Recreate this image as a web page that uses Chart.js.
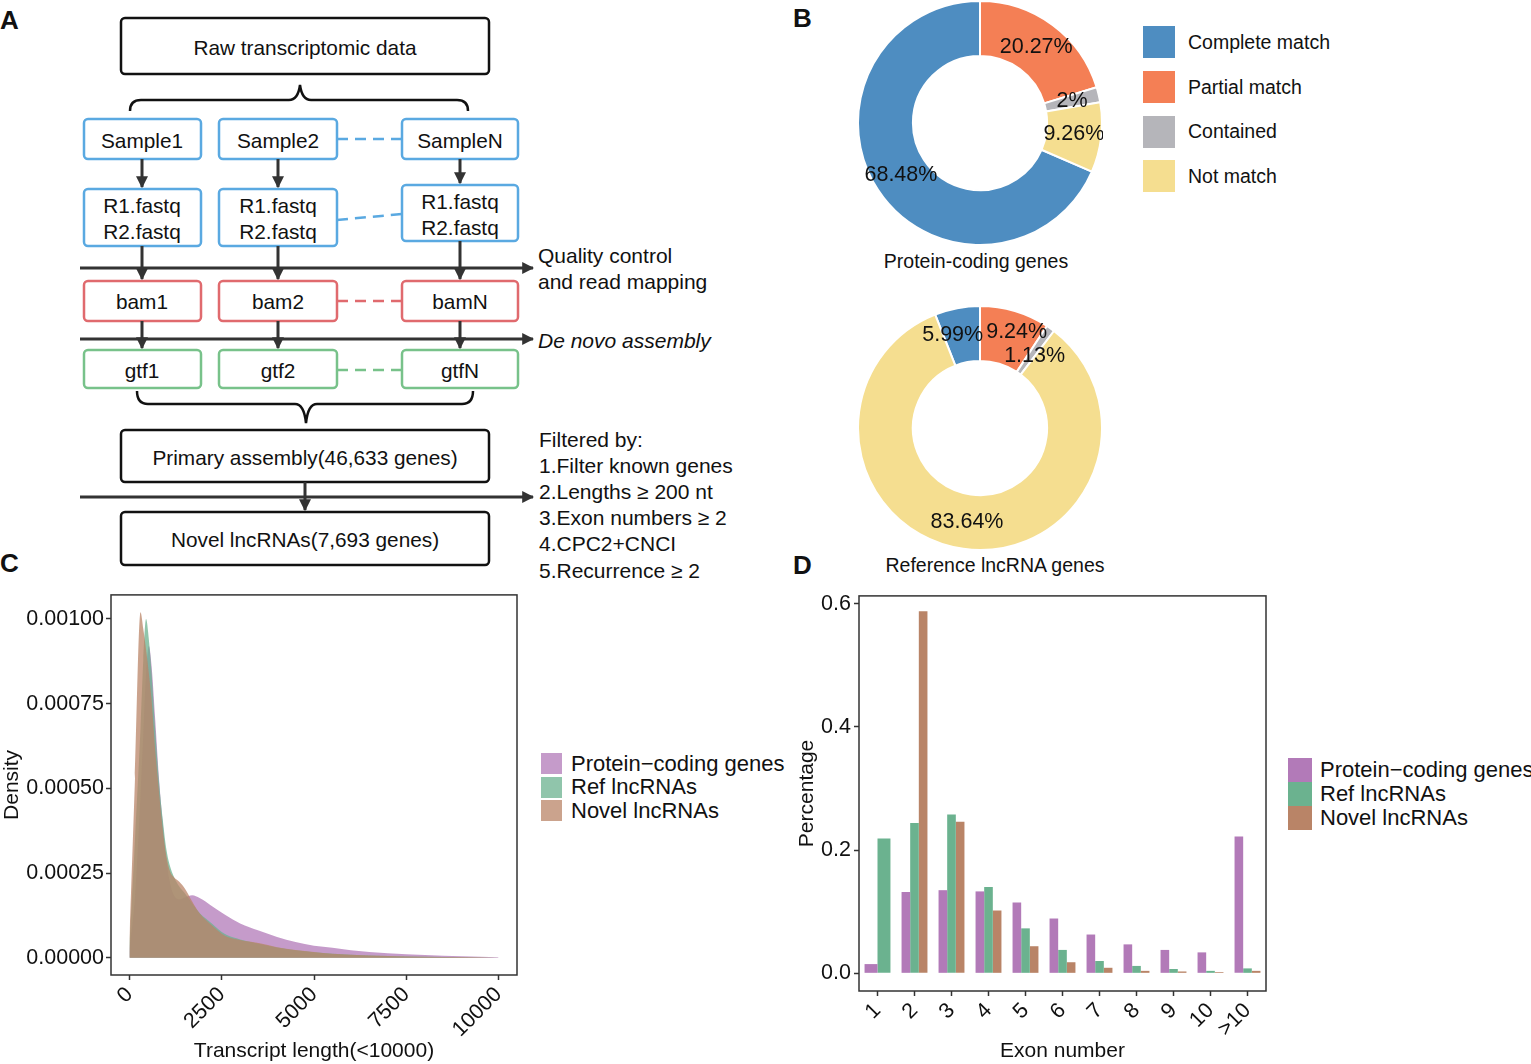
<!DOCTYPE html>
<html>
<head>
<meta charset="utf-8">
<script src="https://cdn.jsdelivr.net/npm/chart.js@4.4.1/dist/chart.umd.min.js"></script>
<style>
  body { margin: 0; background: #fff; font-family: "Liberation Sans", Arial, sans-serif; color: #111; }
  #page { position: relative; width: 1531px; height: 1064px; overflow: hidden; background: #fff; }
  .box { position: absolute; }
  .letter { position: absolute; font-weight: bold; font-size: 26px; line-height: 26px; }
  .caption { position: absolute; font-size: 19.5px; white-space: nowrap; transform: translateX(-50%); }
  .legend { position: absolute; }
  .legend .row { display: flex; align-items: center; white-space: nowrap; }
</style>
</head>
<body>
<div id="page">

  <!-- panel A : workflow -->
  <svg class="box" style="left:0;top:0" width="760" height="590" font-family="Liberation Sans, Arial, sans-serif" font-size="20.8" fill="#111">
    <defs>
      <marker id="head" markerWidth="4" markerHeight="4" refX="3.6" refY="2" orient="auto" markerUnits="strokeWidth">
        <path d="M0,0 L4,2 L0,4 z" fill="#333"/>
      </marker>
    </defs>
    <g fill="none" stroke-width="2.5">
      <rect x="121" y="18" width="368" height="56" rx="4" stroke="#111"/>
      <rect x="84" y="119" width="117" height="40" rx="4" stroke="#5aa9e1"/>
      <rect x="219" y="119" width="118" height="40" rx="4" stroke="#5aa9e1"/>
      <rect x="402" y="119" width="116" height="40" rx="4" stroke="#5aa9e1"/>
      <rect x="84" y="189" width="117" height="57" rx="4" stroke="#5aa9e1"/>
      <rect x="219" y="189" width="118" height="57" rx="4" stroke="#5aa9e1"/>
      <rect x="402" y="185" width="116" height="56" rx="4" stroke="#5aa9e1"/>
      <rect x="84" y="281" width="117" height="40" rx="4" stroke="#e06a6e"/>
      <rect x="219" y="281" width="118" height="40" rx="4" stroke="#e06a6e"/>
      <rect x="402" y="281" width="116" height="40" rx="4" stroke="#e06a6e"/>
      <rect x="84" y="350" width="117" height="38" rx="4" stroke="#78c28a"/>
      <rect x="219" y="350" width="118" height="38" rx="4" stroke="#78c28a"/>
      <rect x="402" y="350" width="116" height="38" rx="4" stroke="#78c28a"/>
      <rect x="121" y="430" width="368" height="52" rx="4" stroke="#111"/>
      <rect x="121" y="512" width="368" height="53" rx="4" stroke="#111"/>

      <line x1="337" y1="139" x2="402" y2="139" stroke="#5aa9e1" stroke-dasharray="11,7"/>
      <line x1="337" y1="220" x2="402" y2="214" stroke="#5aa9e1" stroke-dasharray="11,7"/>
      <line x1="337" y1="301" x2="402" y2="301" stroke="#e06a6e" stroke-dasharray="11,7"/>
      <line x1="337" y1="370" x2="402" y2="370" stroke="#78c28a" stroke-dasharray="11,7"/>

      <path d="M130,111 Q130,100 141,100 L289,100 Q298,100 300,85 Q302,100 311,100 L457,100 Q468,100 468,111" stroke="#111"/>
      <path d="M137,391 Q137,404 148,404 L295,404 Q304,404 306,423 Q308,404 317,404 L462,404 Q473,404 473,391" stroke="#111"/>
    </g>
    <g stroke="#333" stroke-width="3" marker-end="url(#head)">
      <line x1="142" y1="159" x2="142" y2="187"/>
      <line x1="278" y1="159" x2="278" y2="187"/>
      <line x1="460" y1="159" x2="460" y2="183"/>
      <line x1="142" y1="246" x2="142" y2="279"/>
      <line x1="278" y1="246" x2="278" y2="279"/>
      <line x1="460" y1="241" x2="460" y2="279"/>
      <line x1="142" y1="321" x2="142" y2="348"/>
      <line x1="278" y1="321" x2="278" y2="348"/>
      <line x1="460" y1="321" x2="460" y2="348"/>
      <line x1="305" y1="482" x2="305" y2="510"/>
      <line x1="80" y1="268" x2="533" y2="268"/>
      <line x1="80" y1="339" x2="533" y2="339"/>
      <line x1="80" y1="497" x2="533" y2="497"/>
    </g>
    <g text-anchor="middle" dominant-baseline="central">
      <text x="305" y="47">Raw transcriptomic data</text>
      <text x="142" y="140">Sample1</text>
      <text x="278" y="140">Sample2</text>
      <text x="460" y="140">SampleN</text>
      <text x="142" y="205">R1.fastq</text>
      <text x="142" y="231">R2.fastq</text>
      <text x="278" y="205">R1.fastq</text>
      <text x="278" y="231">R2.fastq</text>
      <text x="460" y="201">R1.fastq</text>
      <text x="460" y="227">R2.fastq</text>
      <text x="142" y="301">bam1</text>
      <text x="278" y="301">bam2</text>
      <text x="460" y="301">bamN</text>
      <text x="142" y="370">gtf1</text>
      <text x="278" y="370">gtf2</text>
      <text x="460" y="370">gtfN</text>
      <text x="305" y="457">Primary assembly(46,633 genes)</text>
      <text x="305" y="539">Novel lncRNAs(7,693 genes)</text>
    </g>
    <g font-size="21">
      <text x="538" y="263">Quality control</text>
      <text x="538" y="289">and read mapping</text>
      <text x="538" y="348" font-style="italic">De novo assembly</text>
      <text x="539" y="447">Filtered by:</text>
      <text x="539" y="473">1.Filter known genes</text>
      <text x="539" y="499">2.Lengths ≥ 200 nt</text>
      <text x="539" y="525">3.Exon numbers ≥ 2</text>
      <text x="539" y="551">4.CPC2+CNCI</text>
      <text x="539" y="578">5.Recurrence ≥ 2</text>
    </g>
  </svg>

  <div class="letter" style="left:0;top:7px">A</div>
  <div class="letter" style="left:793px;top:5px">B</div>
  <div class="letter" style="left:0;top:550px">C</div>
  <div class="letter" style="left:793px;top:552px">D</div>

  <!-- panel B -->
  <div class="box" style="left:857px;top:0;width:246px;height:246px"><canvas id="donutProtein"></canvas></div>
  <div class="box" style="left:857px;top:305px;width:246px;height:246px"><canvas id="donutLnc"></canvas></div>
  <div class="caption" style="left:976px;top:250px">Protein-coding genes</div>
  <div class="caption" style="left:995px;top:554px">Reference lncRNA genes</div>
  <div class="legend" id="legendB" style="left:1143px;top:20px;font-size:19.5px"></div>

  <!-- panel C -->
  <div class="box" style="left:0;top:580px;width:530px;height:484px"><canvas id="chartDensity"></canvas></div>
  <div class="legend" id="legendC" style="left:541px;top:752px;font-size:22px"></div>

  <!-- panel D -->
  <div class="box" style="left:780px;top:580px;width:500px;height:484px"><canvas id="chartExon"></canvas></div>
  <div class="legend" id="legendD" style="left:1288px;top:758px;font-size:22px"></div>
</div>

<script>
// ---- data ----
const matchTypes = ['Complete match', 'Partial match', 'Contained', 'Not match'];
const matchColors = ['#4e8dc1', '#f47f55', '#b5b5ba', '#f5de90'];
const proteinMatch = [68.48, 20.27, 2, 9.26];
const lncMatch = [5.99, 9.24, 1.13, 83.64];

const geneGroups = ['Protein\u2212coding genes', 'Ref lncRNAs', 'Novel lncRNAs'];
const groupColors = ['#b27ab8', '#6bb28f', '#b98467'];

const lengthGrid = [0, 150, 300, 375, 450, 525, 600, 700, 800, 900, 1000, 1100, 1200, 1350, 1500,
    1700, 1900, 2200, 2600, 3000, 3500, 4000, 4500, 5000, 5500, 6000, 7000, 8000, 9000, 10000];
const proteinDensity = [0.00002, 0.00018, 0.00048, 0.00066, 0.00084, 0.00092, 0.00086, 0.00070, 0.00053, 0.00040,
    0.00029, 0.00022, 0.000185, 0.000172, 0.000178, 0.000184, 0.000176, 0.000155, 0.000126, 0.000101,
    0.000080, 0.000061, 0.000046, 0.000035, 0.000029, 0.000022, 0.000013, 0.000008, 0.000004, 0.000001];
const refDensity = [0.00004, 0.00035, 0.00068, 0.00088, 0.00100, 0.00094, 0.00084, 0.00067, 0.00052, 0.00041,
    0.00032, 0.00027, 0.00024, 0.00021, 0.00019, 0.00016, 0.000132, 0.000104, 0.000069, 0.000054,
    0.000041, 0.000030, 0.000022, 0.000016, 0.000012, 0.000009, 0.000005, 0.000003, 0.000001, 0];
const novelDensity = [0.00006, 0.00053, 0.00102, 0.00097, 0.00091, 0.00084, 0.00076, 0.00061, 0.00049, 0.00038,
    0.00030, 0.000255, 0.000238, 0.000224, 0.000204, 0.000166, 0.000131, 0.000099, 0.000064, 0.000052,
    0.000043, 0.000031, 0.000023, 0.000017, 0.000012, 0.000009, 0.000005, 0.000003, 0.000002, 0];
const lengthTicks = [0, 2500, 5000, 7500, 10000];
const densityTicks = [0, 0.00025, 0.0005, 0.00075, 0.001];

const exonLabels = ['1', '2', '3', '4', '5', '6', '7', '8', '9', '10', '>10'];
const proteinExon = [0.015, 0.132, 0.135, 0.133, 0.115, 0.089, 0.063, 0.047, 0.038, 0.034, 0.222];
const refExon = [0.219, 0.244, 0.258, 0.140, 0.073, 0.038, 0.020, 0.012, 0.007, 0.004, 0.008];
const novelExon = [null, 0.588, 0.246, 0.102, 0.044, 0.018, 0.009, 0.004, 0.003, 0.002, 0.004];
const percentTicks = [0, 0.2, 0.4, 0.6];

Chart.defaults.font.family = '"Liberation Sans", Arial, sans-serif';
Chart.defaults.color = '#111';

// ---- helpers ----
function alpha(hex, a) {
    const n = parseInt(hex.slice(1), 16);
    return `rgba(${n >> 16}, ${(n >> 8) & 255}, ${n & 255}, ${a})`;
}

const panelFrame = {
    id: 'panelFrame',
    afterDraw(chart) {
        const a = chart.chartArea;
        const ctx = chart.ctx;
        ctx.save();
        ctx.strokeStyle = '#333';
        ctx.lineWidth = 1.5;
        ctx.strokeRect(a.left, a.top, a.right - a.left, a.bottom - a.top);
        ctx.restore();
    }
};

// percent labels at the middle of each slice, pushed apart when they collide
const donutLabels = {
    id: 'donutLabels',
    afterDatasetsDraw(chart) {
        const ctx = chart.ctx;
        const values = chart.data.datasets[0].data;
        const size = 21.5, gap = 3;
        ctx.save();
        ctx.font = size + 'px "Liberation Sans", Arial, sans-serif';
        ctx.fillStyle = '#111';
        ctx.textAlign = 'center';
        ctx.textBaseline = 'middle';
        const labels = chart.getDatasetMeta(0).data.map((arc, i) => {
            const p = arc.tooltipPosition();
            const txt = values[i] + '%';
            return { x: p.x, y: p.y, w: ctx.measureText(txt).width, txt: txt };
        });
        for (let it = 0; it < 10; it++) {
            for (let i = 0; i < labels.length; i++) {
                for (let j = i + 1; j < labels.length; j++) {
                    const a = labels[i], b = labels[j];
                    const ox = (a.w + b.w) / 2 + gap - Math.abs(a.x - b.x);
                    const oy = size + gap - Math.abs(a.y - b.y);
                    if (ox <= 0 || oy <= 0) continue;
                    if (ox < oy) {
                        const s = a.x < b.x ? -1 : 1;
                        a.x += s * ox / 2; b.x -= s * ox / 2;
                    } else {
                        const s = a.y < b.y ? -1 : 1;
                        a.y += s * oy / 2; b.y -= s * oy / 2;
                    }
                }
            }
        }
        labels.forEach(l => ctx.fillText(l.txt, l.x, l.y));
        ctx.restore();
    }
};

function axisGrid(offset) {
    return { display: true, offset: offset, drawOnChartArea: false, drawTicks: true, tickLength: 5, tickColor: '#333', tickWidth: 1.5 };
}

function buildLegend(id, names, colors, boxW, boxH, rowH, gap) {
    const el = document.getElementById(id);
    names.forEach((name, i) => {
        const row = document.createElement('div');
        row.className = 'row';
        row.style.height = rowH + 'px';
        row.innerHTML = `<span style="display:inline-block;width:${boxW}px;height:${boxH}px;background:${colors[i]};margin-right:${gap}px"></span><span>${name}</span>`;
        el.appendChild(row);
    });
}

// ---- panel B ----
function criarDonut(canvasId, values) {
    const total = values.reduce((s, v) => s + v, 0);
    new Chart(document.getElementById(canvasId), {
        type: 'doughnut',
        data: {
            labels: matchTypes,
            datasets: [{
                data: values,
                backgroundColor: matchColors,
                borderColor: '#fff',
                borderWidth: 2
            }]
        },
        options: {
            responsive: true,
            maintainAspectRatio: false,
            animation: false,
            cutout: '55%',
            rotation: -values[0] / total * 360,
            plugins: { legend: { display: false }, tooltip: { enabled: false } }
        },
        plugins: [donutLabels]
    });
}
criarDonut('donutProtein', proteinMatch);
criarDonut('donutLnc', lncMatch);
buildLegend('legendB', matchTypes, matchColors, 32, 32, 44.7, 13);

// ---- panel C ----
const densitySeries = [proteinDensity, refDensity, novelDensity];
new Chart(document.getElementById('chartDensity'), {
    type: 'line',
    data: {
        datasets: densitySeries.map((serie, i) => ({
            label: geneGroups[i],
            data: lengthGrid.map((x, j) => ({ x: x, y: serie[j] })),
            backgroundColor: alpha(groupColors[i], 0.75),
            borderWidth: 0,
            pointRadius: 0,
            fill: 'origin',
            cubicInterpolationMode: 'monotone',
            order: 3 - i
        }))
    },
    options: {
        responsive: true,
        maintainAspectRatio: false,
        animation: false,
        layout: { padding: { top: 10, right: 13, left: 0, bottom: 0 } },
        plugins: { legend: { display: false }, tooltip: { enabled: false } },
        scales: {
            x: {
                type: 'linear',
                min: -500,
                max: 10500,
                afterBuildTicks: s => { s.ticks = lengthTicks.map(v => ({ value: v })); },
                afterFit: s => { s.height = 89; },
                grid: axisGrid(false),
                border: { display: false },
                ticks: { font: { size: 21.5 }, minRotation: 45, maxRotation: 45, autoSkip: false, padding: 2, callback: v => String(v) },
                title: { display: true, text: 'Transcript length(<10000)', font: { size: 21 }, padding: { top: 0, bottom: 0 } }
            },
            y: {
                min: -0.0000511,
                max: 0.001071,
                afterBuildTicks: s => { s.ticks = densityTicks.map(v => ({ value: v })); },
                afterFit: s => { s.width = 111; },
                grid: axisGrid(false),
                border: { display: false },
                ticks: { font: { size: 21.5 }, padding: 2, callback: v => v.toFixed(5) },
                title: { display: true, text: 'Density', font: { size: 21 }, padding: { top: 0, bottom: 0 } }
            }
        }
    },
    plugins: [panelFrame]
});
buildLegend('legendC', geneGroups, groupColors.map(c => alpha(c, 0.75)), 21, 21, 23.5, 9);

// ---- panel D ----
const exonSeries = [proteinExon, refExon, novelExon];
new Chart(document.getElementById('chartExon'), {
    type: 'bar',
    data: {
        labels: exonLabels,
        datasets: exonSeries.map((serie, i) => ({
            label: geneGroups[i],
            data: serie,
            backgroundColor: groupColors[i],
            borderWidth: 0
        }))
    },
    options: {
        responsive: true,
        maintainAspectRatio: false,
        animation: false,
        skipNull: true,
        categoryPercentage: 0.7,
        barPercentage: 1.0,
        layout: { padding: { top: 9, right: 14, left: 0, bottom: 0 } },
        plugins: { legend: { display: false }, tooltip: { enabled: false } },
        scales: {
            x: {
                afterFit: s => { s.height = 73; },
                grid: axisGrid(false),
                border: { display: false },
                ticks: { font: { size: 21.5 }, minRotation: 45, maxRotation: 45, autoSkip: false, padding: 2 },
                title: { display: true, text: 'Exon number', font: { size: 21 }, padding: { top: 0, bottom: 0 } }
            },
            y: {
                min: -0.0287,
                max: 0.6128,
                afterBuildTicks: s => { s.ticks = percentTicks.map(v => ({ value: v })); },
                afterFit: s => { s.width = 79; },
                grid: axisGrid(false),
                border: { display: false },
                ticks: { font: { size: 21.5 }, padding: 3, callback: v => v.toFixed(1) },
                title: { display: true, text: 'Percentage', font: { size: 21 }, padding: { top: 15, bottom: 0 } }
            }
        }
    },
    plugins: [panelFrame]
});
buildLegend('legendD', geneGroups, groupColors, 24, 24, 24, 8);
</script>
</body>
</html>
